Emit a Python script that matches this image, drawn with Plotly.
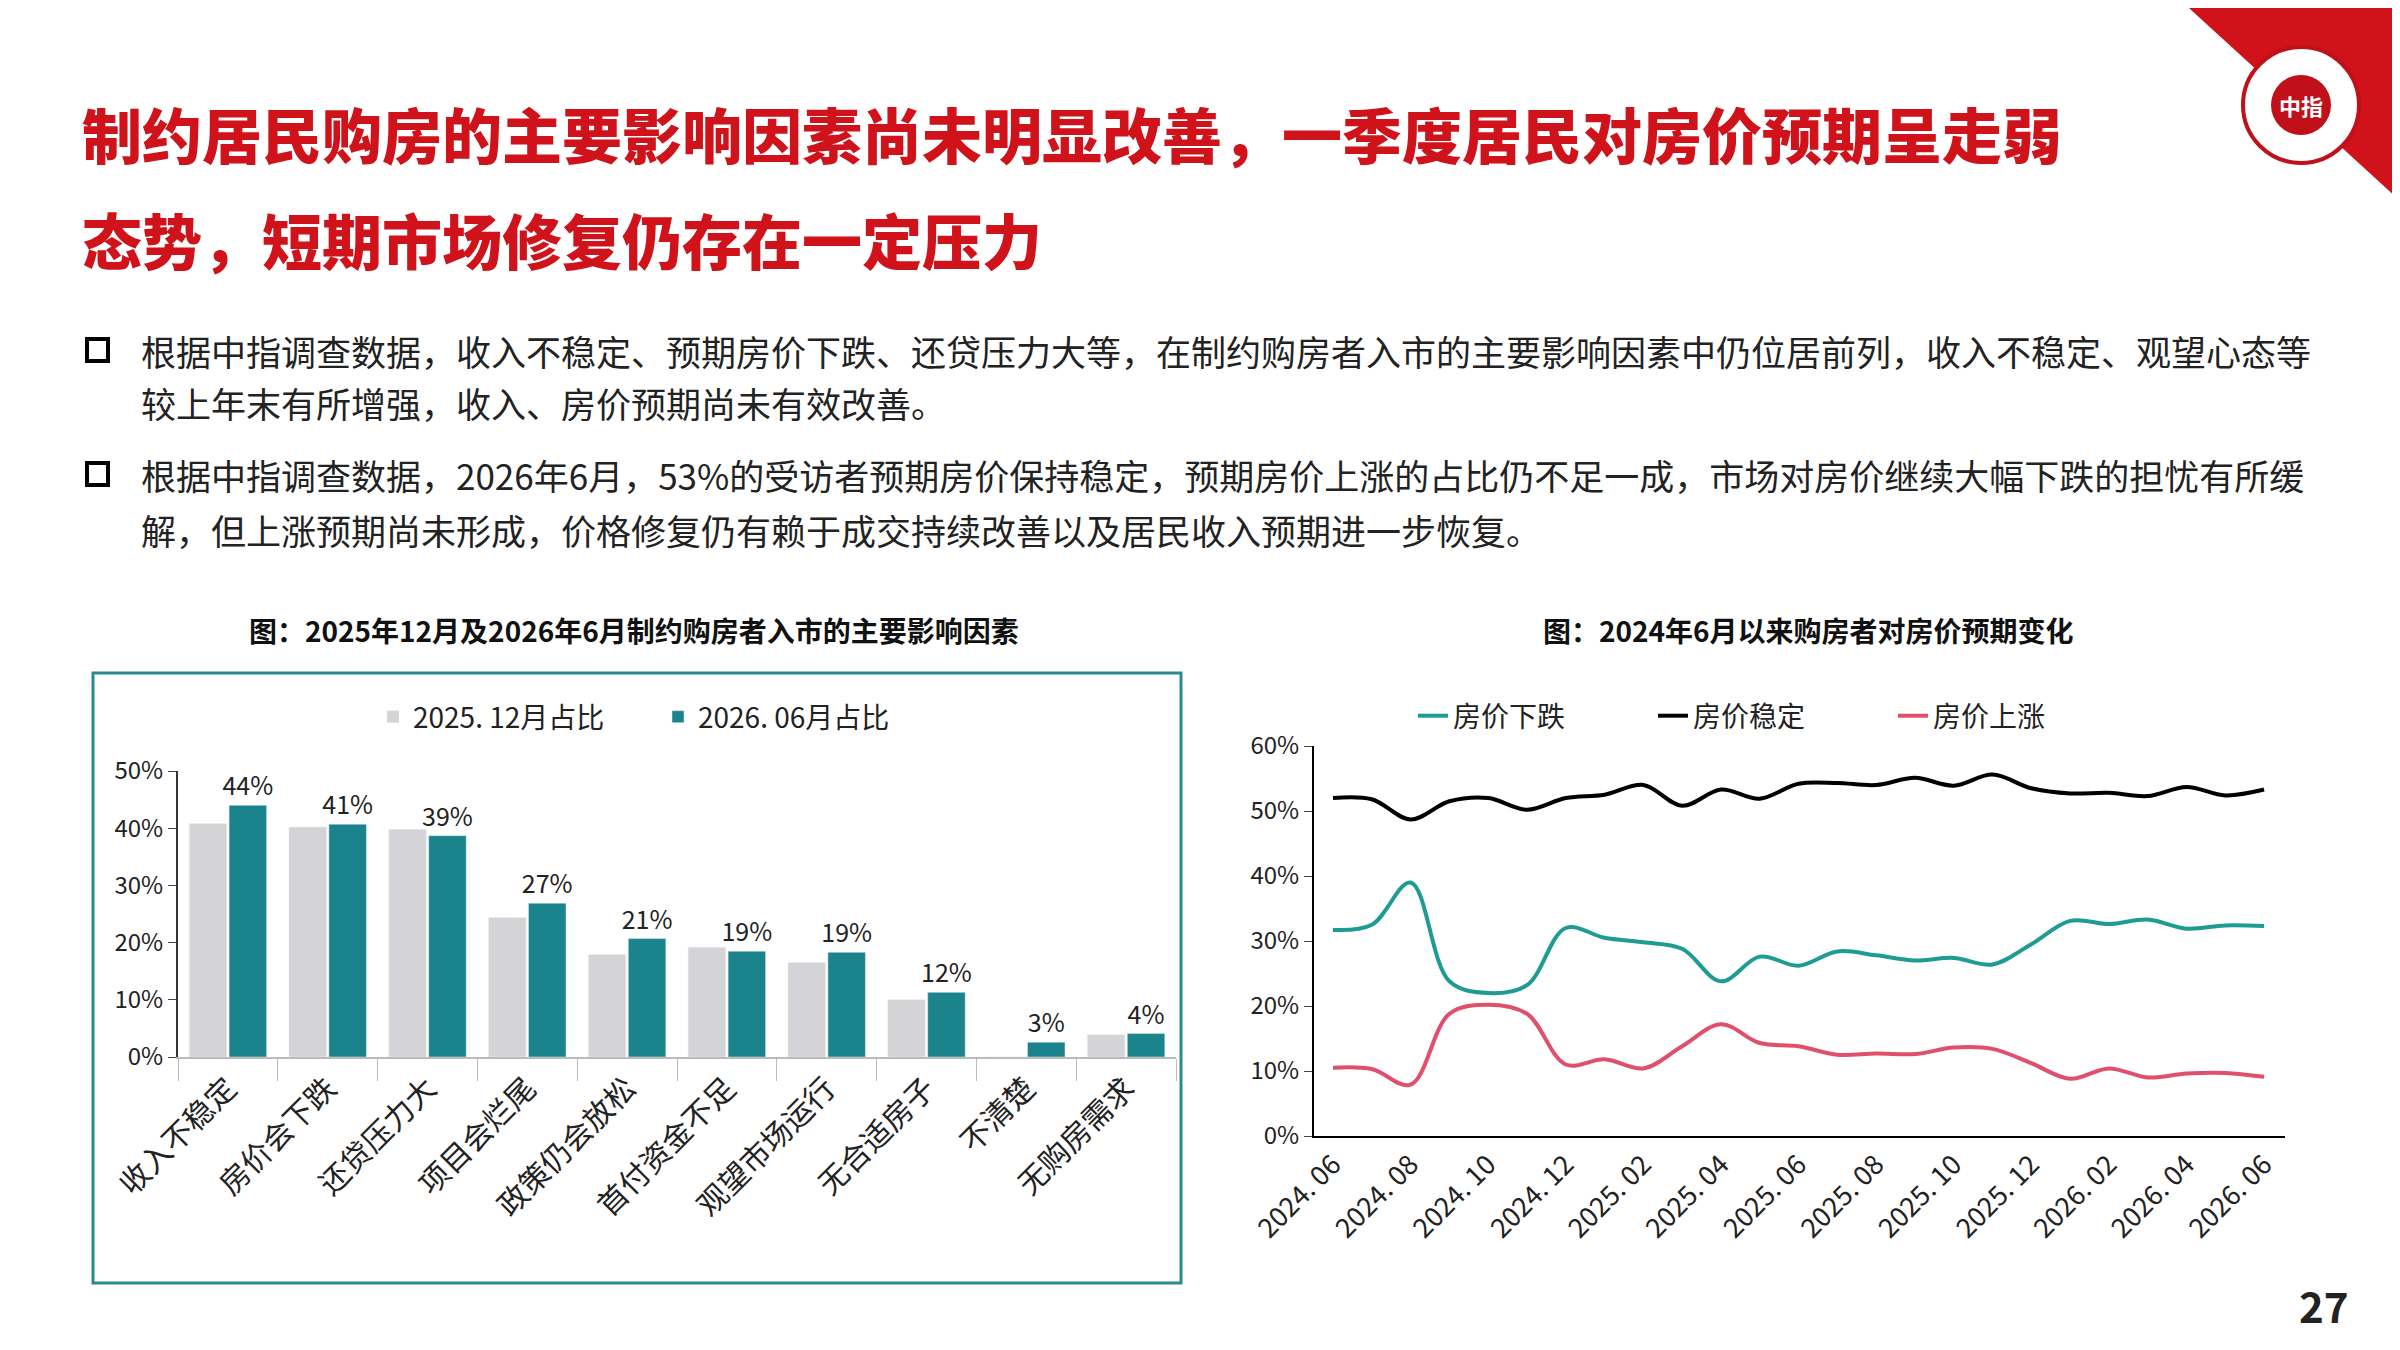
import plotly.graph_objects as go

factors = ["收入不稳定", "房价会下跌", "还贷压力大", "项目会烂尾", "政策仍会放松",
           "首付资金不足", "观望市场运行", "无合适房子", "不清楚", "无购房需求"]
dec2025 = [40.8, 40.2, 39.8, 24.4, 17.9, 19.2, 16.5, 10.0, 0.0, 3.9]
jun2026 = [44.0, 40.7, 38.7, 26.9, 20.7, 18.5, 18.3, 11.3, 2.6, 4.1]
jun2026_labels = ["44%", "41%", "39%", "27%", "21%", "19%", "19%", "12%", "3%", "4%"]

months = ["2024. 06", "2024. 07", "2024. 08", "2024. 09", "2024. 10", "2024. 11", "2024. 12",
          "2025. 01", "2025. 02", "2025. 03", "2025. 04", "2025. 05", "2025. 06", "2025. 07",
          "2025. 08", "2025. 09", "2025. 10", "2025. 11", "2025. 12", "2026. 01", "2026. 02",
          "2026. 03", "2026. 04", "2026. 05", "2026. 06"]
price_down = [31.7, 32.5, 39.0, 23.8, 22.0, 23.2, 32.0, 30.5, 29.8, 28.8, 23.8, 27.6, 26.2,
              28.4, 27.8, 27.0, 27.4, 26.4, 29.5, 33.1, 32.6, 33.3, 31.9, 32.4, 32.3]
price_stable = [52.0, 51.8, 48.7, 51.5, 52.0, 50.2, 52.0, 52.5, 54.0, 50.8, 53.3, 51.9, 54.2,
                54.3, 54.0, 55.1, 53.9, 55.6, 53.5, 52.7, 52.8, 52.3, 53.7, 52.4, 53.3]
price_up = [10.5, 10.3, 7.9, 18.8, 20.2, 18.8, 11.0, 11.8, 10.4, 13.8, 17.2, 14.3, 13.8,
            12.5, 12.7, 12.6, 13.6, 13.4, 11.2, 8.8, 10.4, 9.0, 9.6, 9.7, 9.1]

FONT = "Noto Sans CJK SC"
W, H = 2400, 1350
OFF = 10
def px(x): return (x - OFF) / W
def py(y): return 1 - (y - OFF) / H

fig = go.Figure()
fig.add_trace(go.Bar(x=factors, y=dec2025, name="2025. 12月占比", marker_color="#D4D4D6",
                     xaxis="x", yaxis="y"))
fig.add_trace(go.Bar(x=factors, y=jun2026, name="2026. 06月占比", marker_color="#1B838C",
                     text=jun2026_labels, textposition="outside", cliponaxis=False,
                     constraintext="none", textangle=0,
                     textfont=dict(size=25, color="#222"), xaxis="x", yaxis="y"))

for name, vals, col in [("房价下跌", price_down, "#1E9C93"), ("房价稳定", price_stable, "#000000"),
                        ("房价上涨", price_up, "#E0506C")]:
    fig.add_trace(go.Scatter(x=months, y=vals, name=name, mode="lines",
                             line=dict(color=col, width=4, shape="spline", smoothing=1.0),
                             xaxis="x2", yaxis="y2", legend="legend2"))

tick_months = months[::2]

fig.update_layout(
    width=W, height=H, margin=dict(l=0, r=0, t=0, b=0, autoexpand=False),
    paper_bgcolor="white", plot_bgcolor="white",
    font=dict(family=FONT, color="#222"),
    barmode="group", bargap=0.2, bargroupgap=0.06,
    showlegend=True,
    xaxis=dict(domain=[px(180), px(1178)], showline=True, linecolor="#BBBBBB", linewidth=2,
               ticks="outside", tickson="boundaries", ticklen=22, tickcolor="#BBBBBB",
               tickangle=-45, tickfont=dict(size=30, color="#222"), anchor="y", automargin=False),
    yaxis=dict(domain=[py(1059), py(773)], range=[0, 50], dtick=10, ticksuffix="%",
               showgrid=False, showline=True, linecolor="#333", linewidth=2,
               ticks="outside", ticklen=8, tickfont=dict(size=24), anchor="x", zeroline=False,
               automargin=False),
    xaxis2=dict(domain=[px(1316), px(2287)], range=[-0.49, 24.54], showline=True,
                linecolor="#000", linewidth=2, tickmode="array", tickvals=tick_months,
                ticktext=tick_months, tickangle=-45, tickfont=dict(size=27), anchor="y2",
                ticks="", automargin=False),
    yaxis2=dict(domain=[py(1138), py(748)], range=[0, 60], dtick=10, ticksuffix="%",
                showgrid=False, showline=True, linecolor="#000", linewidth=2,
                ticks="outside", ticklen=8, tickfont=dict(size=24), anchor="x2", zeroline=False,
                automargin=False),
    legend=dict(orientation="h", x=px(660), xanchor="center", y=py(719), yanchor="middle",
                font=dict(size=28), entrywidth=240),
    legend2=dict(orientation="h", x=px(1415), xanchor="left", y=py(718), yanchor="middle",
                 font=dict(size=28), entrywidth=195),
)

shapes = [
    dict(type="rect", xref="paper", yref="paper", x0=px(95), x1=px(1183), y0=py(1285), y1=py(675),
         line=dict(color="#2A8A90", width=3)),
    dict(type="path", xref="paper", yref="paper",
         path=f"M {px(2180)} {py(0)} L {px(2410)} {py(0)} L {px(2410)} {py(210)} Z",
         fillcolor="#D0121B", line=dict(width=0)),
    dict(type="circle", xref="paper", yref="paper", x0=px(2245), x1=px(2361), y0=py(165), y1=py(49),
         fillcolor="white", line=dict(color="#C0101A", width=4)),
    dict(type="circle", xref="paper", yref="paper", x0=px(2273), x1=px(2333), y0=py(137), y1=py(77),
         fillcolor="#C0101A", line=dict(width=0)),
]
for yy in [352, 476]:
    shapes.append(dict(type="rect", xref="paper", yref="paper", x0=px(89), x1=px(110),
                       y0=py(yy + 11), y1=py(yy - 11), line=dict(color="#000", width=4)))
fig.update_layout(shapes=shapes)

ann = []
def txt(x, y, s, size, color="#222", weight="normal", xanchor="left"):
    ann.append(dict(xref="paper", yref="paper", x=px(x), y=py(y), text=s, showarrow=False,
                    xanchor=xanchor, yanchor="middle", font=dict(size=size, color=color, family=FONT,
                                                                  weight=weight)))
txt(82, 135, "制约居民购房的主要影响因素尚未明显改善，一季度居民对房价预期呈走弱", 60, "#D0121B", 900)
txt(82, 240, "态势，短期市场修复仍存在一定压力", 60, "#D0121B", 900)
txt(141, 352, "根据中指调查数据，收入不稳定、预期房价下跌、还贷压力大等，在制约购房者入市的主要影响因素中仍位居前列，收入不稳定、观望心态等", 35)
txt(141, 405, "较上年末有所增强，收入、房价预期尚未有效改善。", 35)
txt(141, 476, "根据中指调查数据，2026年6月，53%的受访者预期房价保持稳定，预期房价上涨的占比仍不足一成，市场对房价继续大幅下跌的担忧有所缓", 35)
txt(141, 531, "解，但上涨预期尚未形成，价格修复仍有赖于成交持续改善以及居民收入预期进一步恢复。", 35)
txt(636, 632, "图：2025年12月及2026年6月制约购房者入市的主要影响因素", 28, "#111", "bold", "center")
txt(1810, 632, "图：2024年6月以来购房者对房价预期变化", 28, "#111", "bold", "center")
txt(2326, 1306, "27", 42, "#222", "bold", "center")
txt(2303, 107, "中指", 22, "white", "bold", "center")
fig.update_layout(annotations=ann)

fig.write_html("out.html")
